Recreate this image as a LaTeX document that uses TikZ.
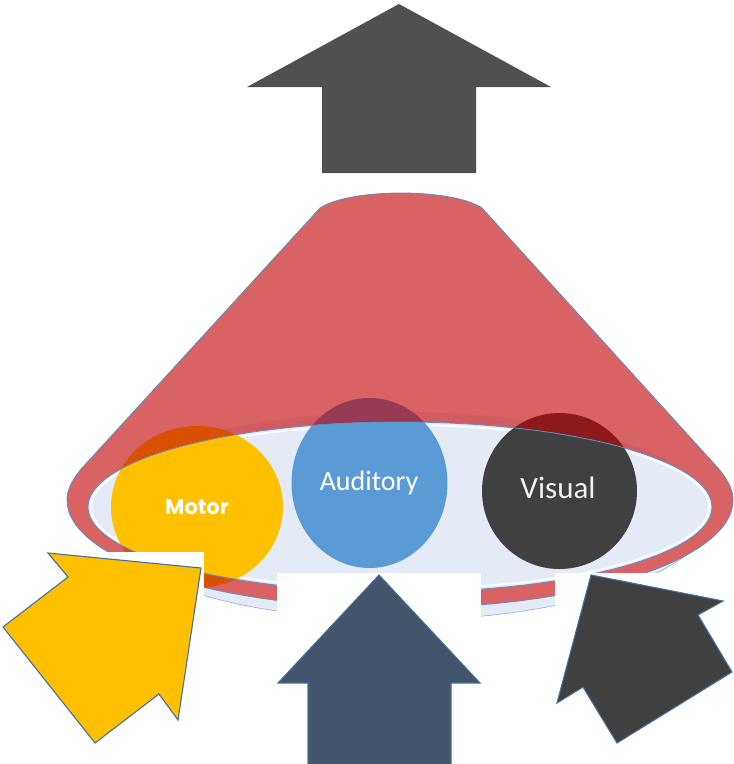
\documentclass[tikz,border=0pt]{standalone}
\usepackage{fontspec}
\newfontfamily\calfont{Carlito}
\newfontfamily\popfont{Poppins}
\definecolor{conered}{RGB}{217,99,99}
\definecolor{shadowred}{RGB}{208,92,98}
\definecolor{edgeblue}{RGB}{91,140,200}
\definecolor{arrowblue}{RGB}{65,113,156}
\definecolor{innerfill}{RGB}{229,235,246}
\definecolor{motoryel}{RGB}{255,192,0}
\definecolor{motordark}{RGB}{217,80,0}
\definecolor{audblue}{RGB}{91,155,213}
\definecolor{auddark}{RGB}{150,58,85}
\definecolor{visgray}{RGB}{64,64,64}
\definecolor{visdark}{RGB}{140,26,26}
\definecolor{topgray}{RGB}{80,80,80}
\definecolor{midslate}{RGB}{68,84,106}
\begin{document}
\begin{tikzpicture}[x=1pt,y=1pt,yscale=-1,
  arrowshape/.style={draw=arrowblue,line width=1.1pt,line join=miter},
  knockout/.style={fill=white},
  label/.style={inner sep=0pt,anchor=base}]
\path[use as bounding box] (0,0) rectangle (734,764);
% top arrow
\fill[topgray] (399,4) -- (551,87) -- (476,87) -- (476,173) -- (322,173) -- (322,87) -- (247,87) -- cycle;
% base ring
\filldraw[fill=innerfill,draw=edgeblue!70,line width=0.6pt] (400,505) ellipse [x radius=318, y radius=115];
% cone
\filldraw[fill=conered,draw=edgeblue,line width=0.8pt]
  (82,468) -- (320,208) .. controls (350,188) and (452,188) .. (482,208)
  -- (718,468) .. controls (730,482) and (733,492) .. (733,500)
  arc[start angle=0,end angle=180,x radius=333,y radius=108]
  .. controls (67,492) and (70,482) .. (82,468) -- cycle;
% shadow above inner ellipse
\begin{scope}
  \clip (0,0) rectangle (734,505);
  \fill[shadowred] (400,507) ellipse [x radius=306, y radius=95];
\end{scope}
% circles over the cone
\fill[motordark] (197,507) ellipse [x radius=86, y radius=81];
\fill[auddark] (369.5,483) ellipse [x radius=78, y radius=85];
\fill[visdark] (559.5,491) ellipse [x radius=77.5, y radius=78];
% inner ellipse
\fill[innerfill] (400,507) ellipse [x radius=312, y radius=85];
\draw[white,line width=1.6pt] (400,507) ellipse [x radius=309, y radius=82];
\begin{scope}
  \clip (400,507) ellipse [x radius=312, y radius=85];
  \fill[motoryel] (197,507) ellipse [x radius=86, y radius=81];
  \fill[audblue] (369.5,483) ellipse [x radius=78, y radius=85];
  \fill[visgray] (559.5,491) ellipse [x radius=77.5, y radius=78];
\end{scope}
\draw[edgeblue,line width=0.8pt] (400,507) ellipse [x radius=312, y radius=85];
% labels
\node[label,text=white] (motor) at (197,514) {\popfont\bfseries\fontsize{21}{24}\selectfont Motor};
\node[label,text=white] (auditory) at (369,490) {\calfont\fontsize{28}{32}\selectfont Auditory};
\node[label,text=white!95!black] (visual) at (558,498) {\calfont\fontsize{31}{35}\selectfont Visual};
% knockout boxes
\fill[knockout] (30,552) rectangle (204,640);
\fill[knockout] (277,573) rectangle (481,630);
\fill[knockout] (555,573) rectangle (734,640);
% bottom arrows
\filldraw[arrowshape,fill=motoryel] (201,568) -- (48,553) -- (68,577) -- (3,627) -- (95,743) -- (159,694) -- (178,720) -- cycle;
\filldraw[arrowshape,fill=midslate] (379,575) -- (480,683) -- (451,683) -- (451,766) -- (308,766) -- (308,683) -- (278,683) -- cycle;
\filldraw[arrowshape,fill=visgray] (591,575) -- (723,601) -- (698,615) -- (732,672) -- (617,743) -- (583,687) -- (557,703) -- cycle;
\end{tikzpicture}
\end{document}
